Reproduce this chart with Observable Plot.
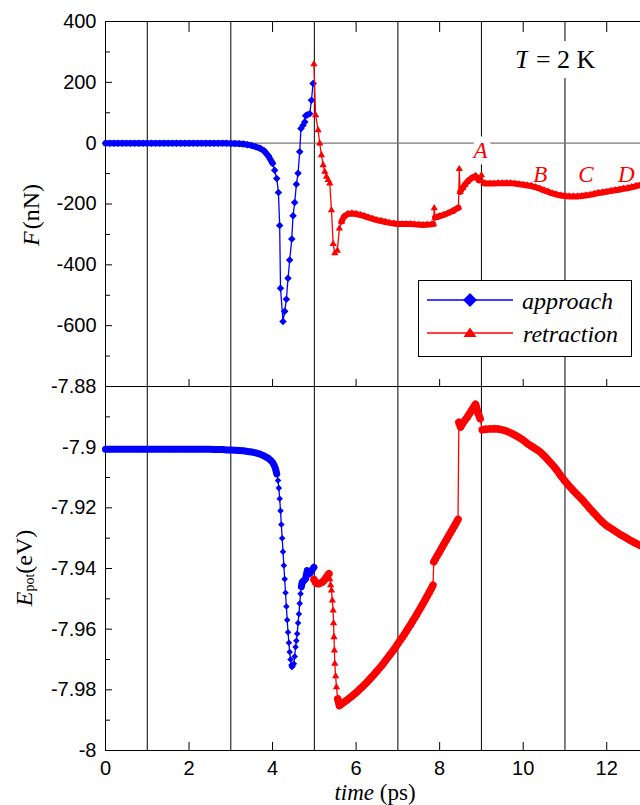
<!DOCTYPE html>
<html>
<head>
<meta charset="utf-8">
<script src="https://cdn.jsdelivr.net/npm/d3@7"></script>
<script src="https://cdn.jsdelivr.net/npm/@observablehq/plot@0.6"></script>
<style>
  body { margin: 0; background: #fff; }
  #chart { position: relative; width: 640px; height: 805px; overflow: hidden; background: #fff; }
  #top, #bot { position: absolute; left: 0; }
</style>
</head>
<body>
<div id="chart">
  <div id="top" style="top:0px"></div>
  <div id="bot" style="top:366px"></div>
</div>
<script>
// ---------------- data (time in ps) ----------------
const approachForce = [ // [time, F (nN)]
  [0,0],[0.1,0],[0.2,0],[0.3,0],[0.4,0],[0.5,0],[0.6,0],[0.7,0],[0.8,0],[0.9,0],
  [1.0,0],[1.1,0],[1.2,0],[1.3,0],[1.4,0],[1.5,0],[1.6,0],[1.7,0],[1.8,0],[1.9,0],
  [2.0,0],[2.1,0],[2.2,0],[2.3,0],[2.4,0],[2.5,0],[2.6,0],[2.7,0],[2.8,0],[2.9,0],
  [3.0,-1],[3.1,-1],[3.2,-2],[3.3,-3],[3.4,-5],[3.5,-8],[3.6,-12],[3.7,-17],[3.8,-26],[3.9,-42],
  [4.0,-66],[4.05,-89],[4.1,-116],[4.14,-162],[4.17,-271],[4.19,-477],[4.25,-586],[4.29,-553],
  [4.33,-513],[4.37,-444],[4.41,-384],[4.46,-315],[4.49,-239],[4.53,-195],[4.57,-135],[4.61,-99],
  [4.65,-28],[4.68,48],[4.73,59],[4.77,70],[4.79,90],[4.83,93],[4.89,97],[4.93,141],[4.97,196]
];
const retractionForce = [
  [4.99,260],[5.03,92],[5.09,43],[5.13,-1],[5.17,-39],[5.21,-72],[5.25,-94],[5.29,-110],[5.33,-121],
  [5.37,-132],[5.41,-220],[5.45,-331],[5.49,-362],[5.55,-353],[5.6,-280],[5.65,-258],[5.71,-241],
  [5.8,-233],[5.9,-231],[6.0,-233],[6.1,-236],[6.2,-240],[6.3,-245],[6.4,-249],[6.5,-253],[6.6,-256],
  [6.7,-259],[6.8,-262],[6.9,-264],[7.0,-266],[7.1,-266],[7.2,-266],[7.3,-266],[7.4,-267],[7.5,-268],
  [7.6,-269],[7.7,-268],[7.8,-267],[7.85,-266],[7.87,-214],[7.89,-245],[7.94,-243],[8.0,-240],
  [8.1,-236],[8.2,-230],[8.3,-224],[8.4,-216],[8.45,-212],[8.47,-85],[8.49,-160],[8.55,-147],
  [8.6,-137],[8.66,-127],[8.75,-116],[8.86,-108],[8.94,-122],[9.0,-105],[9.06,-132],[9.1,-133],
  [9.2,-133],[9.3,-133],[9.4,-132],[9.5,-132],[9.6,-132],[9.7,-132],[9.8,-133],[9.9,-135],
  [10.0,-137],[10.1,-139],[10.2,-141],[10.3,-145],[10.4,-150],[10.5,-155],[10.6,-160],[10.7,-165],
  [10.8,-169],[10.9,-172],[11.0,-174],[11.1,-175],[11.2,-175],[11.3,-175],[11.4,-174],[11.5,-172],
  [11.6,-170],[11.7,-167],[11.8,-164],[11.9,-162],[12.0,-160],[12.1,-157],[12.2,-155],[12.3,-153],
  [12.4,-150],[12.5,-148],[12.6,-145],[12.7,-141],[12.8,-138],[12.9,-136]
];
const approachEnergy = [ // [time, E_pot (eV)]
  [0,-7.9007],[0.1,-7.9007],[0.2,-7.9007],[0.3,-7.9007],[0.4,-7.9007],[0.5,-7.9007],[0.6,-7.9007],
  [0.7,-7.9007],[0.8,-7.9007],[0.9,-7.9007],[1.0,-7.9007],[1.1,-7.9007],[1.2,-7.9007],[1.3,-7.9007],
  [1.4,-7.9007],[1.5,-7.9007],[1.6,-7.9007],[1.7,-7.9007],[1.8,-7.9007],[1.9,-7.9007],[2.0,-7.9007],
  [2.1,-7.9007],[2.2,-7.9007],[2.3,-7.9007],[2.4,-7.9007],[2.5,-7.9007],[2.6,-7.9008],[2.7,-7.9008],
  [2.8,-7.9008],[2.9,-7.9009],[3.0,-7.9009],[3.1,-7.901],[3.2,-7.9011],[3.3,-7.9012],[3.4,-7.9014],
  [3.5,-7.9016],[3.6,-7.9019],[3.7,-7.9023],[3.8,-7.9029],[3.9,-7.9037],[3.95,-7.9043],[4.0,-7.905],
  [4.04,-7.906],[4.07,-7.9071],[4.1,-7.9088],[4.13,-7.911],[4.15,-7.9135],[4.17,-7.917],[4.19,-7.921],
  [4.21,-7.9255],[4.23,-7.93],[4.25,-7.9345],[4.27,-7.939],[4.29,-7.9435],[4.31,-7.948],[4.33,-7.9525],
  [4.35,-7.957],[4.37,-7.961],[4.39,-7.9645],[4.41,-7.9675],[4.43,-7.97],[4.45,-7.9718],[4.46,-7.9725],
  [4.48,-7.9722],[4.51,-7.9714],[4.53,-7.969],[4.55,-7.9659],[4.57,-7.9638],[4.59,-7.9615],[4.61,-7.958],
  [4.63,-7.955],[4.65,-7.9515],[4.67,-7.9483],[4.69,-7.946],[4.71,-7.9445],[4.75,-7.944],[4.79,-7.9434],
  [4.81,-7.942],[4.83,-7.9407],[4.86,-7.9412],[4.89,-7.9417],[4.92,-7.941],[4.95,-7.9404],[4.99,-7.9396]
];
const retractionEnergy = [
  [4.99,-7.9436],[5.03,-7.9446],[5.07,-7.945],[5.11,-7.945],[5.15,-7.9448],[5.19,-7.9445],[5.23,-7.944],
  [5.27,-7.9432],[5.31,-7.9424],[5.35,-7.9417],[5.37,-7.9435],[5.39,-7.9455],[5.41,-7.9472],[5.43,-7.9505],
  [5.45,-7.9538],[5.46,-7.958],[5.47,-7.9626],[5.48,-7.967],[5.49,-7.9714],[5.51,-7.9755],[5.53,-7.9791],
  [5.56,-7.983],[5.6,-7.9852],[5.65,-7.9847],[5.7,-7.9842],[5.75,-7.9837],[5.8,-7.9832],[5.85,-7.9826],
  [5.9,-7.9821],[5.95,-7.9815],[6.0,-7.9809],[6.05,-7.9803],[6.1,-7.9796],[6.15,-7.979],[6.2,-7.9783],
  [6.25,-7.9776],[6.3,-7.9769],[6.35,-7.9761],[6.4,-7.9754],[6.45,-7.9746],[6.5,-7.9738],[6.55,-7.973],
  [6.6,-7.9722],[6.65,-7.9713],[6.7,-7.9704],[6.75,-7.9695],[6.8,-7.9686],[6.85,-7.9677],[6.9,-7.9668],
  [6.95,-7.9658],[7.0,-7.9648],[7.05,-7.9638],[7.1,-7.9628],[7.15,-7.9618],[7.2,-7.9607],[7.25,-7.9596],
  [7.3,-7.9586],[7.35,-7.9574],[7.4,-7.9563],[7.45,-7.9552],[7.5,-7.954],[7.55,-7.9528],[7.6,-7.9516],
  [7.65,-7.9504],[7.7,-7.9491],[7.75,-7.9479],[7.8,-7.9466],[7.84,-7.9455],[7.86,-7.9378],[7.9,-7.9368],
  [7.95,-7.9356],[8.0,-7.9344],[8.05,-7.9332],[8.1,-7.932],[8.15,-7.9308],[8.2,-7.9296],[8.25,-7.9284],
  [8.3,-7.9272],[8.35,-7.926],[8.4,-7.9248],[8.44,-7.9238],[8.46,-7.8918],[8.5,-7.8934],[8.55,-7.8922],
  [8.6,-7.8912],[8.66,-7.8901],[8.75,-7.8882],[8.86,-7.8858],[8.92,-7.8888],[8.97,-7.8906],[9.02,-7.8943],
  [9.1,-7.8941],[9.2,-7.894],[9.3,-7.8939],[9.4,-7.894],[9.5,-7.8943],[9.6,-7.8947],[9.7,-7.8953],
  [9.8,-7.896],[9.9,-7.8968],[10.0,-7.8977],[10.1,-7.8988],[10.2,-7.8997],[10.3,-7.9006],[10.4,-7.9015],
  [10.5,-7.9028],[10.6,-7.9043],[10.7,-7.9058],[10.8,-7.9075],[10.9,-7.9094],[11.0,-7.9112],[11.1,-7.9128],
  [11.2,-7.9143],[11.3,-7.9157],[11.4,-7.9171],[11.5,-7.9187],[11.6,-7.9203],[11.7,-7.9218],[11.8,-7.9233],
  [11.9,-7.9247],[12.0,-7.9259],[12.1,-7.9268],[12.2,-7.9277],[12.3,-7.9286],[12.4,-7.9294],[12.5,-7.9302],
  [12.6,-7.931],[12.7,-7.9317],[12.8,-7.9324],[12.9,-7.933]
];

// time ranges where the simulation markers are so dense that they merge into a thick band
const approachForceDense = [[0, 4.0]];
const retractionForceDense = [[5.65, 7.85], [7.89, 8.45], [8.49, 8.94], [9.06, 12.9]];
const approachEnergyDense = [[0, 4.1], [4.69, 4.99]];
const retractionEnergyDense = [[4.99, 5.35], [5.56, 7.84], [7.86, 8.44], [8.46, 8.97], [9.02, 12.9]];

const xTickValues = [0, 2, 4, 6, 8, 10, 12];
const xTickLabels = ["0", "2", "4", "6", "8", "10", "12"];
const gridTimes = [1, 3, 5, 7, 9, 11];
const forceLabelTicks = [400, 200, 0, -200, -400, -600];
const forceMinorTicks = [300, 100, -100, -300, -500, -700];
const energyLabelTicks = [-7.88, -7.9, -7.92, -7.94, -7.96, -7.98, -8];
const energyMinorTicks = [-7.89, -7.91, -7.93, -7.95, -7.97, -7.99];
const seriesNames = ["approach", "retraction"];
const pointLabels = ["A", "B", "C", "D"];
const pointLabelTime = [8.98, 10.41, 11.5, 12.47];
const pointLabelForce = [-23, -105, -105, -105];

// ---------------- layout ----------------
const BLUE = "#0000ff", RED = "#ff0000";
const SANS = "'Liberation Sans', Arial, sans-serif";
const SERIF = "'Liberation Serif', 'Times New Roman', serif";
const W = 660, ML = 105, MR = 12, plotW = W - ML - MR;
const xDomain = [0, 13];
const svgStyle = `max-width:none;background:transparent;overflow:visible;font-family:${SANS};font-size:20px;`;
const rows = pairs => pairs.map(([t, v]) => ({t, v}));
const bands = (pairs, ranges) => ranges.flatMap(([a, b], k) =>
  rows(pairs).filter(d => d.t >= a - 1e-9 && d.t <= b + 1e-9).map(d => ({...d, k})));
const diamond = { draw(ctx, size) { const r = Math.sqrt(size / 2); ctx.moveTo(0, -r); ctx.lineTo(r, 0); ctx.lineTo(0, r); ctx.lineTo(-r, 0); ctx.closePath(); } };
const fmt = d => String(d);

// ---------------- top panel: force ----------------
const topH = 400, topMT = 21, topMB = 14, topPH = topH - topMT - topMB;
const topPlot = Plot.plot({
  width: W, height: topH, marginTop: topMT, marginBottom: topMB, marginLeft: ML, marginRight: MR,
  style: svgStyle,
  x: {domain: xDomain, axis: null},
  y: {domain: [-800, 400], axis: null},
  marks: [
    Plot.ruleX(gridTimes, {stroke: "black", strokeWidth: 1}),
    Plot.ruleY([0], {stroke: "#777", strokeWidth: 1.4}),
    Plot.ruleX(xDomain, {stroke: "black"}),
    Plot.ruleY([-800, 400], {stroke: "black"}),
    Plot.tickY(forceMinorTicks, {y: d => d, stroke: "black", insetRight: plotW - 5}),
    Plot.tickY(forceLabelTicks, {y: d => d, stroke: "black", insetRight: plotW - 7}),
    Plot.tickX(xTickValues, {x: d => d, stroke: "black", insetBottom: topPH - 11}),
    Plot.tickX(xTickValues, {x: d => d, stroke: "black", insetTop: topPH - 7}),
    Plot.axisY(forceLabelTicks, {tickSize: 0, tickPadding: 9, tickFormat: fmt, label: null, fontSize: 20, fontFamily: SANS}),
    Plot.line(bands(approachForce, approachForceDense), {x: "t", y: "v", z: "k", stroke: BLUE, strokeWidth: 6}),
    Plot.line(rows(approachForce), {x: "t", y: "v", stroke: BLUE, strokeWidth: 1.3}),
    Plot.dot(rows(approachForce), {x: "t", y: "v", symbol: diamond, r: 3.0, fill: BLUE}),
    Plot.line(bands(retractionForce, retractionForceDense), {x: "t", y: "v", z: "k", stroke: RED, strokeWidth: 6}),
    Plot.line(rows(retractionForce), {x: "t", y: "v", stroke: RED, strokeWidth: 1.3}),
    Plot.dot(rows(retractionForce), {x: "t", y: "v", symbol: "triangle", r: 2.7, fill: RED}),
    // point labels A (with white box), B, C, D
    Plot.text([0], {x: () => pointLabelTime[0], y: () => pointLabelForce[0], text: () => pointLabels[0],
      fill: RED, stroke: "white", strokeWidth: 13, paintOrder: "stroke",
      fontFamily: SERIF, fontStyle: "italic", fontSize: 23}),
    Plot.text([1, 2, 3], {x: i => pointLabelTime[i], y: i => pointLabelForce[i], text: i => pointLabels[i],
      fill: RED, fontFamily: SERIF, fontStyle: "italic", fontSize: 23}),
    // temperature label
    Plot.text(["T"], {x: () => 10.15, y: () => 273, text: d => d, textAnchor: "end",
      fill: "black", stroke: "white", strokeWidth: 20, paintOrder: "stroke",
      fontFamily: SERIF, fontStyle: "italic", fontSize: 26}),
    Plot.text([" = 2 K"], {x: () => 10.15, y: () => 273, text: d => d, textAnchor: "start",
      fill: "black", stroke: "white", strokeWidth: 20, paintOrder: "stroke",
      fontFamily: SERIF, fontSize: 26})
  ]
});
document.getElementById("top").appendChild(topPlot);

// ---------------- bottom panel: energy ----------------
const botH = 439, botMT = 20, botMB = 55, botPH = botH - botMT - botMB;
const botPlot = Plot.plot({
  width: W, height: botH, marginTop: botMT, marginBottom: botMB, marginLeft: ML, marginRight: MR,
  style: svgStyle,
  x: {domain: xDomain, axis: null},
  y: {domain: [-8, -7.88], axis: null},
  marks: [
    Plot.ruleX(gridTimes, {stroke: "black", strokeWidth: 1}),
    Plot.ruleX(xDomain, {stroke: "black"}),
    Plot.ruleY([-8, -7.88], {stroke: "black"}),
    Plot.tickY(energyMinorTicks, {y: d => d, stroke: "black", insetRight: plotW - 5}),
    Plot.tickY(energyLabelTicks, {y: d => d, stroke: "black", insetRight: plotW - 7}),
    Plot.tickX(xTickValues, {x: d => d, stroke: "black", insetTop: botPH - 8}),
    Plot.axisY(energyLabelTicks, {tickSize: 0, tickPadding: 9, tickFormat: fmt, label: null, fontSize: 20, fontFamily: SANS}),
    Plot.axisX(xTickValues, {tickSize: 0, tickPadding: 10, tickFormat: d => xTickLabels[xTickValues.indexOf(d)], label: null, fontSize: 20, fontFamily: SANS}),
    Plot.line(bands(approachEnergy, approachEnergyDense), {x: "t", y: "v", z: "k", stroke: BLUE, strokeWidth: 7}),
    Plot.line(rows(approachEnergy), {x: "t", y: "v", stroke: BLUE, strokeWidth: 1.3}),
    Plot.dot(rows(approachEnergy), {x: "t", y: "v", symbol: diamond, r: 2.6, fill: BLUE}),
    Plot.line(bands(retractionEnergy, retractionEnergyDense), {x: "t", y: "v", z: "k", stroke: RED, strokeWidth: 7.5}),
    Plot.line(rows(retractionEnergy), {x: "t", y: "v", stroke: RED, strokeWidth: 1.3}),
    Plot.dot(rows(retractionEnergy), {x: "t", y: "v", symbol: "triangle", r: 2.7, fill: RED})
  ]
});
document.getElementById("bot").appendChild(botPlot);

// ---------------- overlay: axis titles and legend ----------------
const ovl = d3.select("#chart").append("svg")
  .attr("width", 640).attr("height", 805)
  .style("position", "absolute").style("left", "0px").style("top", "0px")
  .style("pointer-events", "none")
  .attr("font-family", SERIF).attr("font-size", 24);

const fTitle = ovl.append("text").attr("transform", "translate(39,215) rotate(-90)").attr("text-anchor", "middle");
fTitle.append("tspan").attr("font-style", "italic").text("F");
fTitle.append("tspan").attr("dx", 2).text("(nN)");

const eTitle = ovl.append("text").attr("transform", "translate(31.5,568) rotate(-90)").attr("text-anchor", "middle");
eTitle.append("tspan").attr("font-style", "italic").text("E");
eTitle.append("tspan").attr("font-size", 14).attr("dy", 2).text("pot");
eTitle.append("tspan").attr("dy", -2).text("(eV)");

const xTitle = ovl.append("text").attr("x", 375).attr("y", 799.5).attr("text-anchor", "middle").attr("font-size", 23);
xTitle.append("tspan").attr("font-style", "italic").text("time");
xTitle.append("tspan").text(" (ps)");

const lg = ovl.append("g");
lg.append("rect").attr("x", 418.5).attr("y", 280.5).attr("width", 213).attr("height", 76)
  .attr("fill", "white").attr("stroke", "black").attr("stroke-width", 1);
lg.append("line").attr("x1", 427).attr("x2", 513).attr("y1", 300).attr("y2", 300).attr("stroke", BLUE).attr("stroke-width", 1.3);
lg.append("path").attr("d", "M470,293L477,300L470,307L463,300Z").attr("fill", BLUE);
lg.append("line").attr("x1", 427).attr("x2", 513).attr("y1", 333).attr("y2", 333).attr("stroke", RED).attr("stroke-width", 1.3);
lg.append("path").attr("d", "M470,327.5L476.5,337L463.5,337Z").attr("fill", RED);
lg.append("text").attr("x", 522).attr("y", 309).attr("font-style", "italic").text(seriesNames[0]);
lg.append("text").attr("x", 523).attr("y", 341.5).attr("font-style", "italic").text(seriesNames[1]);
</script>
</body>
</html>
